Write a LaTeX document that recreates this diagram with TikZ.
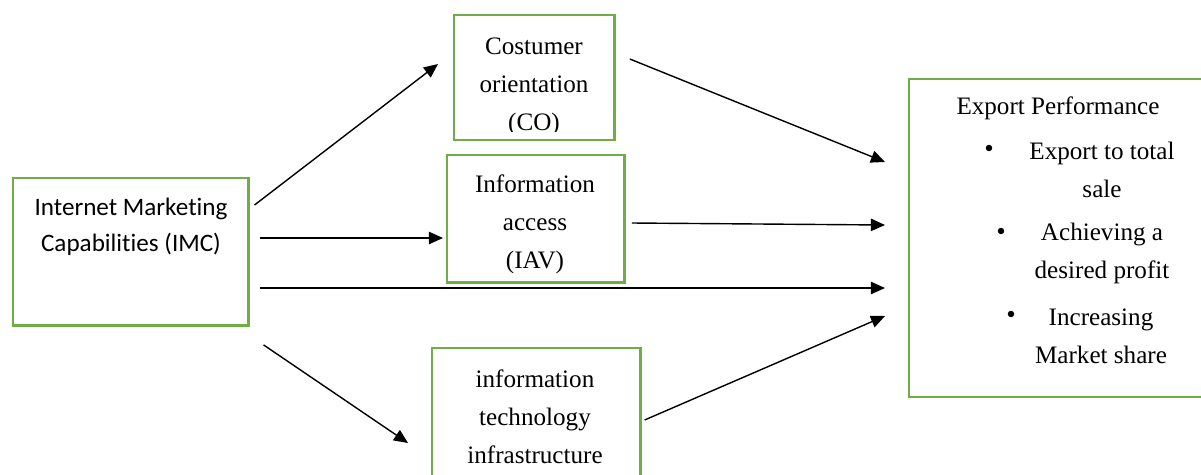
\documentclass[tikz,border=0pt]{standalone}
\usepackage{fontspec}
\setmainfont{Liberation Serif}
\newfontfamily\calibri[Ligatures=NoCommon]{Carlito}
\usepackage{xcolor}
\usetikzlibrary{calc,arrows.meta}
\definecolor{boxgreen}{HTML}{70AD47}
\def\pxu{0.5669pt}
\tikzset{
  box/.style={draw=boxgreen, line width=1.4pt, anchor=north west, inner sep=0pt},
  arr/.style={draw=black, line width=0.8pt, -{Triangle[length=8pt,width=7pt]}},
  lab/.style={align=center, font=\fontsize{14.3}{21.6}\selectfont, inner sep=0pt},
  labs/.style={align=center, font=\calibri\fontsize{14.3}{20.4}\selectfont, inner sep=0pt},
  bul/.style={circle, fill=black, inner sep=0pt, minimum size=6.5*\pxu},
}

\begin{document}
\begin{tikzpicture}[x=0.02cm, y=-0.02cm]
  \useasboundingbox (0,0) rectangle (1201,474);
  \clip (0,0) rectangle (1201,474);
  % boxes
  \node[box, minimum width=236*\pxu, minimum height=148*\pxu] (imc) at (12,177) {};
  \node[box, minimum width=161*\pxu, minimum height=125*\pxu] (co) at (453,14) {};
  \node[box, minimum width=178*\pxu, minimum height=128*\pxu] (iav) at (446,154) {};
  \node[box, minimum width=209*\pxu, minimum height=140*\pxu] (iti) at (431,347) {};
  \node[box, minimum width=300*\pxu, minimum height=319*\pxu] (ep) at (908,78) {};
  % texts
  \node[labs] (imctext) at (131,227) {Internet Marketing\\Capabilities (IMC)};
  \begin{scope}
    \clip (453,14) rectangle (614,131);
    \node[lab] (cotext) at (534,87) {Costumer\\orientation\\(CO)};
  \end{scope}
  \node[lab] (iavtext) at (535,224) {Information\\access\\(IAV)};
  \node[lab] (ititext) at (535,417) {information\\technology\\infrastructure};
  \node[lab] (ephead) at (1058,108) {Export Performance};
  \node[lab] (item1) at (1102,170) {Export to total\\sale};
  \node[lab] (item2) at (1102,253) {Achieving a\\desired profit};
  \node[lab] (item3) at (1101,336) {Increasing\\Market share};
  \node[bul] (bul1) at (989,148) {};
  \node[bul] (bul2) at (1001,231) {};
  \node[bul] (bul3) at (1011,314) {};
  % arrows
  \draw[arr] ($(imc.north east)+(5,28)$) -- ($(co.north west)+(-15,50)$);
  \draw[arr] ($(imc.north east)+(10,61)$) -- ($(iav.north west)+(-3,84)$);
  \draw[arr] ($(imc.north east)+(10,111)$) -- ($(ep.north west)+(-23,210)$);
  \draw[arr] ($(imc.south east)+(14,18)$) -- ($(iti.north west)+(-23,96)$);
  \draw[arr] ($(co.north east)+(14,45)$) -- ($(ep.north west)+(-23,84)$);
  \draw[arr] ($(iav.north east)+(6,69)$) -- ($(ep.north west)+(-23,147)$);
  \draw[arr] ($(iti.north east)+(3,73)$) -- ($(ep.north west)+(-23,238)$);
\end{tikzpicture}
\end{document}
